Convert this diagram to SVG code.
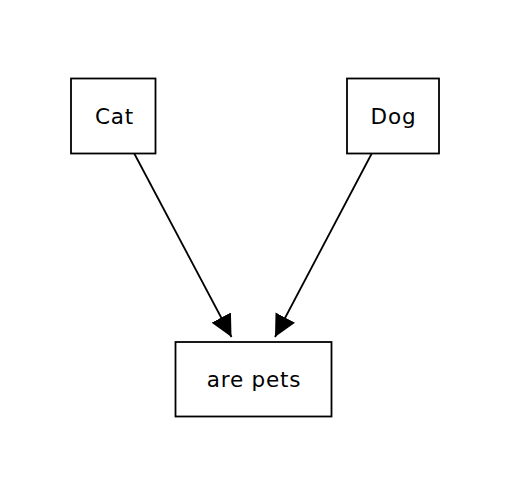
<svg xmlns="http://www.w3.org/2000/svg" width="515" height="488" viewBox="0 0 515 488">
<style>
.box{fill:#fff;stroke:#000;stroke-width:1.8}
.lbl{font-family:"DejaVu Sans","Noto Sans",sans-serif;font-size:21.5px;letter-spacing:0.8px;fill:#000;text-anchor:middle}
.edge{stroke:#000;stroke-width:1.8;fill:none}
</style>
<defs>
<marker id="ah" markerUnits="userSpaceOnUse" viewBox="0 0 22 22" markerWidth="22" markerHeight="22" refX="22" refY="11" orient="auto">
<path d="M0,0 L22,11 L0,22 Z" fill="#000"/>
</marker>
</defs>
<rect width="515" height="488" fill="#fff"/>
<g id="connectors">
<line class="edge" x1="134" y1="153" x2="231.5" y2="337" marker-end="url(#ah)"/>
<line class="edge" x1="372" y1="153" x2="275" y2="337" marker-end="url(#ah)"/>
</g>
<g id="cat">
<rect class="box" x="71" y="78.5" width="84.5" height="75"/>
<text class="lbl" x="114.5" y="123.5">Cat</text>
</g>
<g id="dog">
<rect class="box" x="347" y="78.5" width="92" height="75"/>
<text class="lbl" x="393.5" y="123.5">Dog</text>
</g>
<g id="pets">
<rect class="box" x="175.5" y="342" width="156" height="74.5"/>
<text class="lbl" x="254" y="386.5">are pets</text>
</g>
</svg>
